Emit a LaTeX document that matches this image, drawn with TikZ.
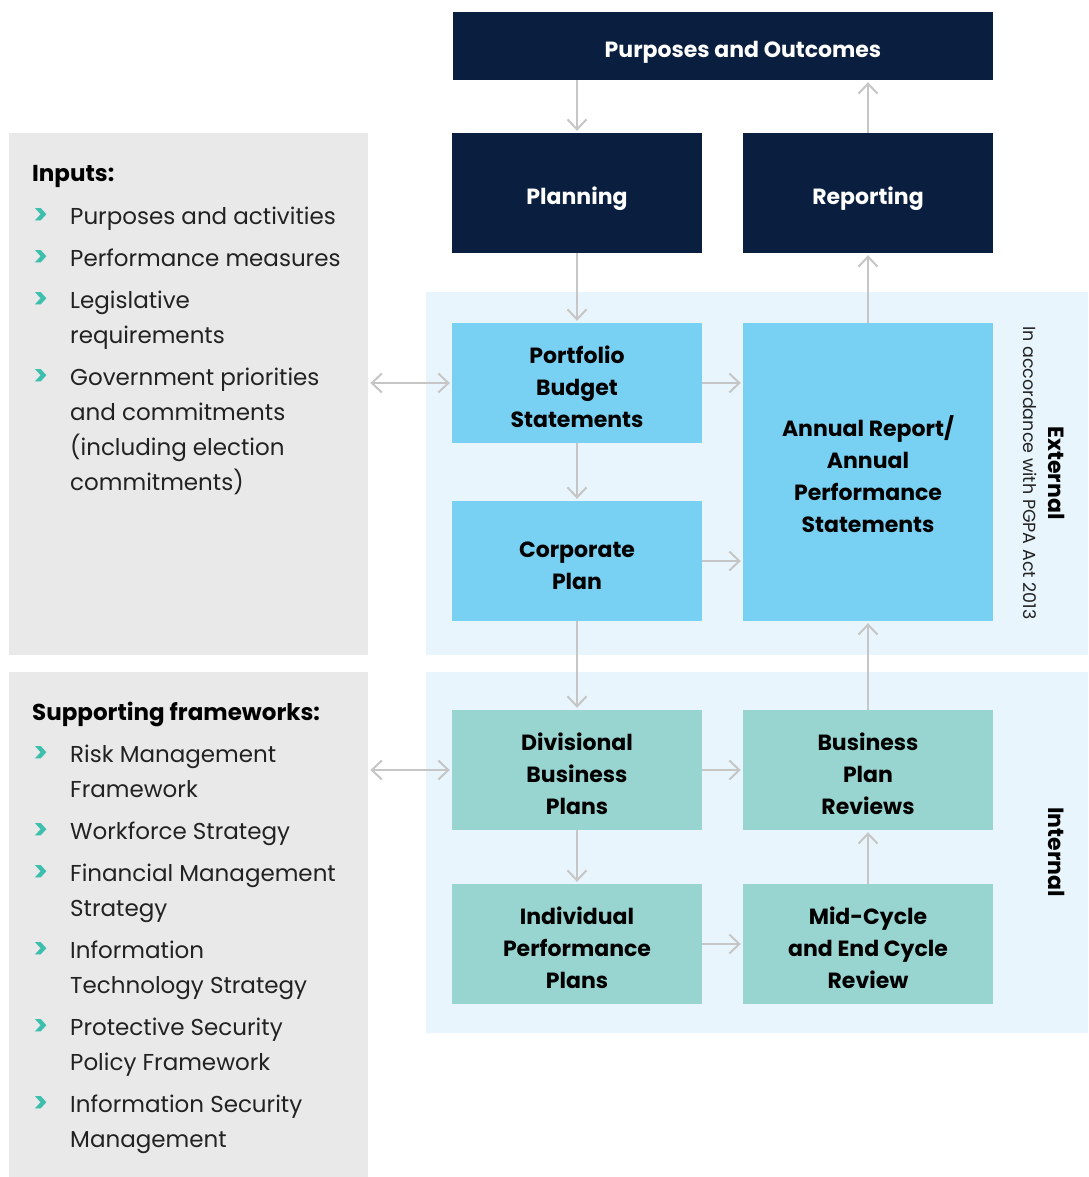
\documentclass[tikz,border=0pt]{standalone}
\usepackage{fontspec}
\setmainfont{Poppins}
\usetikzlibrary{arrows.meta,positioning}

\definecolor{navy}{HTML}{0A1F3F}
\definecolor{skyblue}{HTML}{78D0F3}
\definecolor{tealbox}{HTML}{98D5D1}
\definecolor{paleblue}{HTML}{E8F5FC}
\definecolor{panelgrey}{HTML}{E9E9E9}
\definecolor{arrowgrey}{HTML}{C6C6C6}
\definecolor{bullet}{HTML}{3DBFAE}
\definecolor{bodytext}{HTML}{222222}

\newcommand\blockfont{\fontsize{22}{32}\selectfont\bfseries}
\newcommand\listfont{\fontsize{23}{35}\selectfont}
\newcommand\chev{\textcolor{bullet}{\fontsize{28}{35}\selectfont\bfseries >}}
% fixed first-line height and last-line depth, so box labels sit alike
\newcommand\boxlabel[1]{\rule{0pt}{28.25pt}#1\rule[-3.75pt]{0pt}{3.75pt}}

\tikzset{
  box/.style={minimum width=250pt, minimum height=120pt, align=center,
    inner sep=0pt, font=\blockfont},
  navybox/.style={box, fill=navy, text=white},
  extbox/.style={box, fill=skyblue, text=black},
  intbox/.style={box, fill=tealbox, text=black},
  greypanel/.style={fill=panelgrey, anchor=north west, inner sep=0pt, minimum width=359pt},
  bluepanel/.style={fill=paleblue, anchor=north west, inner sep=0pt, minimum width=662pt},
  listtext/.style={font=\listfont, text=bodytext, inner sep=0pt, anchor=base west},
  sidelabel/.style={rotate=-90, inner sep=0pt, text=black},
  barb/.tip={Straight Barb[length=10pt, width=19pt, line width=2pt]},
  flow/.style={draw=arrowgrey, line width=2pt, -barb, shorten >=2pt},
  twoway/.style={flow, barb-barb, shorten <=2pt},
}

\begin{document}
\begin{tikzpicture}[x=1pt, y=-1pt]
\useasboundingbox (0,0) rectangle (1088,1177);

%% background panels
\node[greypanel, minimum height=522pt] (inputs) at (9,133) {};
\node[greypanel, minimum height=505pt] (support) at (9,672) {};
\node[bluepanel, minimum height=363pt] (external) at (426,292) {};
\node[bluepanel, minimum height=361pt] (internal) at (426,672) {};

%% top level
\node[navybox, minimum width=540pt, minimum height=68pt] (outcomes) at (723,46) {\boxlabel{\hspace*{40pt}Purposes and Outcomes}};
\node[navybox] (planning) at (577,193) {\boxlabel{Planning}};
\node[navybox] (reporting) at (868,193) {\boxlabel{Reporting}};

%% external documents
\node[extbox] (pbs) at (577,383) {\boxlabel{Portfolio\\Budget\\Statements}};
\node[extbox] (corp) at (577,561) {\boxlabel{Corporate\\Plan}};
\node[extbox, minimum height=298pt] (annual) at (868,472) {\boxlabel{Annual Report/\\Annual\\Performance\\Statements}};

%% internal documents
\node[intbox] (div) at (577,770) {\boxlabel{Divisional\\Business\\Plans}};
\node[intbox] (bpr) at (868,770) {\boxlabel{Business\\Plan\\Reviews}};
\node[intbox] (indiv) at (577,944) {\boxlabel{Individual\\Performance\\Plans}};
\node[intbox] (review) at (868,944) {\boxlabel{Mid-Cycle\\and End Cycle\\Review}};

%% side labels
\node[sidelabel, font=\fontsize{22}{26}\selectfont\bfseries] (ext_label) at (1057,473) {External};
\node[sidelabel, font=\fontsize{17.5}{20}\selectfont, text=bodytext] (pgpa) at (1030,473) {In accordance with PGPA Act 2013};
\node[sidelabel, font=\fontsize{22}{26}\selectfont\bfseries] (int_label) at (1057,852) {Internal};

%% inputs list
\node[listtext, font=\fontsize{23}{35}\selectfont\bfseries, text=black] (inputs_title) at (32,182) {Inputs:};
\node[listtext] (inputs_list) at (33,224) {\begin{tabular}[t]{@{}p{37pt}@{}l@{}}
\chev & Purposes and activities\\[7pt]
\chev & Performance measures\\[7pt]
\chev & Legislative\\
      & requirements\\[7pt]
\chev & Government priorities\\
      & and commitments\\
      & (including election\\
      & commitments)
\end{tabular}};

%% supporting frameworks list
\node[listtext, font=\fontsize{23}{35}\selectfont\bfseries, text=black] (support_title) at (32,720) {Supporting frameworks:};
\node[listtext] (support_list) at (33,762) {\begin{tabular}[t]{@{}p{37pt}@{}l@{}}
\chev & Risk Management\\
      & Framework\\[7pt]
\chev & Workforce Strategy\\[7pt]
\chev & Financial Management\\
      & Strategy\\[7pt]
\chev & Information\\
      & Technology Strategy\\[7pt]
\chev & Protective Security\\
      & Policy Framework\\[7pt]
\chev & Information Security\\
      & Management
\end{tabular}};

%% flows
\draw[flow] (outcomes.south -| planning.north) -- (planning.north);
\draw[flow] (reporting.north) -- (reporting.north |- outcomes.south);
\draw[flow] (planning) -- (pbs);
\draw[flow] (pbs) -- (corp);
\draw[flow] (corp) -- (div);
\draw[flow] (div) -- (indiv);
\draw[flow] (pbs.east) -- (pbs.east -| annual.west);
\draw[flow] (corp.east) -- (corp.east -| annual.west);
\draw[flow] (div) -- (bpr);
\draw[flow] (indiv) -- (review);
\draw[flow] (review) -- (bpr);
\draw[flow] (bpr) -- (annual);
\draw[flow] (annual) -- (reporting);
\draw[twoway] (inputs.east |- pbs) -- (pbs.west);
\draw[twoway] (support.east |- div) -- (div.west);

\end{tikzpicture}
\end{document}
